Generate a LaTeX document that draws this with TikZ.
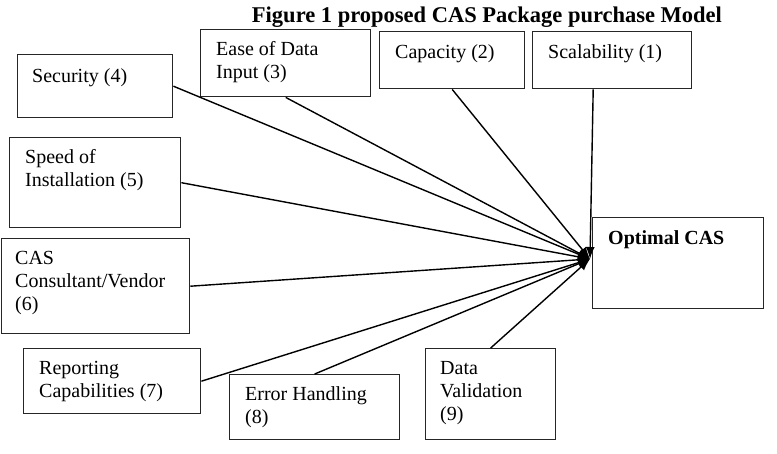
\documentclass[tikz,border=0pt]{standalone}
\usepackage{fontspec}
\setmainfont{Liberation Serif}
\usetikzlibrary{arrows.meta,calc}
\begin{document}
\begin{tikzpicture}[x=1pt,y=-1pt,
  box/.style={draw=black!85,line width=1.4pt,rectangle,inner sep=0pt,anchor=north west},
  lbl/.style={anchor=north west,align=left,inner sep=0pt,font=\fontsize{20}{23}\selectfont},
  conn/.style={line width=1.4pt,-{Latex[length=12pt,width=9pt]}}]
\useasboundingbox (0,0) rectangle (777,454);
\node[anchor=base,inner sep=0pt,font=\fontsize{22.5}{26}\selectfont\bfseries] (title) at (487,23) {Figure 1 proposed CAS Package purchase Model};
% boxes
\node[box,minimum width=155,minimum height=63] (sec) at (17,54) {};
\node[box,minimum width=170,minimum height=67] (ease) at (200,29) {};
\node[box,minimum width=145,minimum height=57] (cap) at (379,31) {};
\node[box,minimum width=159,minimum height=57] (scal) at (532,31) {};
\node[box,minimum width=171,minimum height=90] (speed) at (9,137) {};
\node[box,minimum width=188,minimum height=95] (cons) at (1,238) {};
\node[box,minimum width=177,minimum height=65] (rep) at (23,348) {};
\node[box,minimum width=170,minimum height=65] (err) at (229,374) {};
\node[box,minimum width=130,minimum height=91] (val) at (425,348) {};
\node[box,minimum width=171,minimum height=91] (opt) at (592,217) {};
% labels (first baseline 26--28 below the box top; strut height 16.1)
\node[lbl] (tsec) at ($(sec.north west)+(15,11.9)$) {\strut Security (4)};
\node[lbl] (tease) at ($(ease.north west)+(16,9.9)$) {\strut Ease of Data\\Input (3)};
\node[lbl] (tcap) at ($(cap.north west)+(16,10.9)$) {\strut Capacity (2)};
\node[lbl] (tscal) at ($(scal.north west)+(16,10.9)$) {\strut Scalability (1)};
\node[lbl] (tspeed) at ($(speed.north west)+(16,9.9)$) {\strut Speed of\\Installation (5)};
\node[lbl] (tcons) at ($(cons.north west)+(14,9.9)$) {\strut CAS\\Consultant/Vendor\\(6)};
\node[lbl] (trep) at ($(rep.north west)+(16,9.9)$) {\strut Reporting\\Capabilities (7)};
\node[lbl] (terr) at ($(err.north west)+(16,9.9)$) {\strut Error Handling\\(8)};
\node[lbl] (tval) at ($(val.north west)+(15,9.9)$) {\strut Data\\Validation\\(9)};
\node[lbl,font=\fontsize{20}{23}\selectfont\bfseries] (topt) at ($(opt.north west)+(16,10.9)$) {\strut Optimal CAS};
% connectors
\coordinate (tip) at (590,259);
\draw[conn] (sec.east) -- (tip);
\draw[conn] (ease.south) -- (tip);
\draw[conn] (cap.south) -- (tip);
\draw[conn] ([xshift=-19pt]scal.south) -- (tip);
\draw[conn] (speed.east) -- (tip);
\draw[conn] (cons.east) -- (tip);
\draw[conn] (rep.east) -- (tip);
\draw[conn] (err.north) -- (tip);
\draw[conn] (val.north) -- (tip);
\end{tikzpicture}
\end{document}
